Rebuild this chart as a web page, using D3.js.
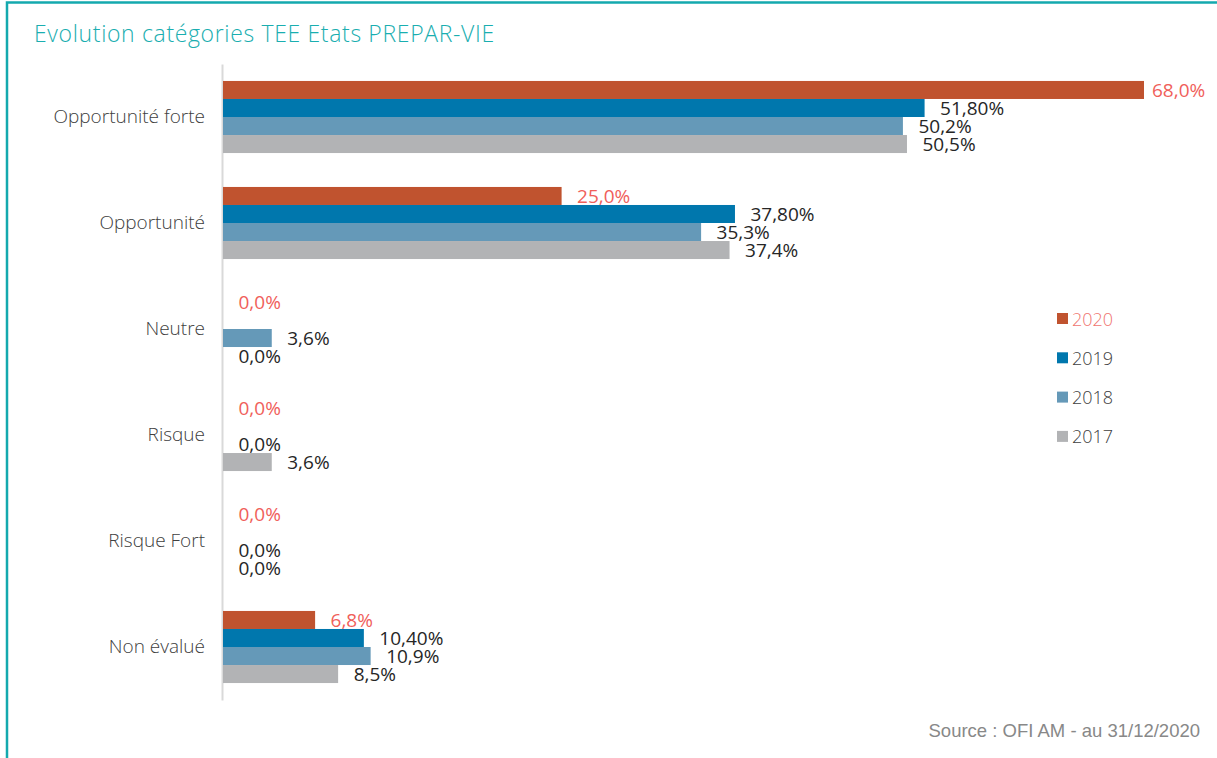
<!DOCTYPE html>
<html><head><meta charset="utf-8">
<script src="https://cdn.jsdelivr.net/npm/d3@7"></script>
<style>
html,body{margin:0;padding:0;background:#fff;}
svg{display:block;}
</style></head>
<body>
<svg id="chart" width="1217" height="758"></svg>
<script>
const title = "Evolution catégories TEE Etats PREPAR-VIE";
const source = "Source : OFI AM - au 31/12/2020";
const categories = ["Opportunité forte","Opportunité","Neutre","Risque","Risque Fort","Non évalué"];
const seriesNames = ["2020","2019","2018","2017"];
const values2020 = [68.0, 25.0, 0.0, 0.0, 0.0, 6.8];
const values2019 = [51.80, 37.80, null, null, null, 10.40];
const values2018 = [50.2, 35.3, 3.6, 0.0, 0.0, 10.9];
const values2017 = [50.5, 37.4, 0.0, 3.6, 0.0, 8.5];
const labels2020 = ["68,0%","25,0%","0,0%","0,0%","0,0%","6,8%"];
const labels2019 = ["51,80%","37,80%",null,null,null,"10,40%"];
const labels2018 = ["50,2%","35,3%","3,6%","0,0%","0,0%","10,9%"];
const labels2017 = ["50,5%","37,4%","0,0%","3,6%","0,0%","8,5%"];
const colors = ["#C0532F","#0077AD","#6599B8","#B2B3B5"];
const labelColors = ["#F0605A","#262626","#262626","#262626"];
const legendTextColors = ["#F07470","#404040","#404040","#404040"];

const seriesValues = [values2020, values2019, values2018, values2017];
const seriesLabels = [labels2020, labels2019, labels2018, labels2017];

const svg = d3.select("#chart");
const font = "'Open Sans', sans-serif";

// frame
svg.append("path")
  .attr("d", "M7,758 L7,2.5 L1217,2.5")
  .attr("fill","none").attr("stroke","#14A9AE").attr("stroke-width",2.5);

svg.append("text").attr("x",34).attr("y",42)
  .attr("font-family",font).attr("font-weight",300).attr("font-size",23)
  .attr("letter-spacing",0.65)
  .attr("fill","#1AAEB0").text(title);

const x = d3.scaleLinear().domain([0,68]).range([223,1144]);
const y = d3.scaleBand().domain(categories).range([64,700]).paddingInner(0.32).paddingOuter(0.16);
const ySub = d3.scaleBand().domain(seriesNames).range([0,y.bandwidth()]);

// axis
const yAxis = d3.axisLeft(y).tickSize(0).tickPadding(17);
const gAxis = svg.append("g").attr("transform","translate(222,0)").call(yAxis);
gAxis.select(".domain").attr("stroke","#D9D9D9").attr("stroke-width",2);
gAxis.selectAll("text").attr("font-family",font).attr("font-weight",300)
  .attr("font-size",19).attr("fill","#404040");

seriesNames.forEach((s, si) => {
  const recs = categories.map((c, ci) => ({c, v: seriesValues[si][ci], l: seriesLabels[si][ci]}));
  const g = svg.append("g");
  g.selectAll("rect").data(recs.filter(d => d.v !== null && d.v > 0)).join("rect")
    .attr("x", x(0)).attr("y", d => y(d.c) + ySub(s))
    .attr("width", d => x(d.v) - x(0)).attr("height", ySub.bandwidth())
    .attr("fill", colors[si]);
  g.selectAll("text").data(recs.filter(d => d.l !== null)).join("text")
    .attr("x", d => Math.min(x(d.v) + 15.5, 1152))
    .attr("y", d => y(d.c) + ySub(s) + ySub.bandwidth()/2)
    .attr("dominant-baseline","central")
    .attr("font-family",font).attr("font-size",19)
    .attr("fill", labelColors[si]).text(d => d.l);
});

// legend
const legend = svg.append("g");
seriesNames.forEach((s, i) => {
  const ly = 318.5 + i*39.3;
  legend.append("rect").attr("x",1057).attr("y",ly-5.5).attr("width",11).attr("height",11).attr("fill",colors[i]);
  legend.append("text").attr("x",1072).attr("y",ly).attr("dominant-baseline","central")
    .attr("font-family",font).attr("font-weight",300).attr("font-size",18)
    .attr("fill",legendTextColors[i]).text(s);
});

svg.append("text").attr("x",1200).attr("y",737).attr("text-anchor","end")
  .attr("font-family","'Liberation Sans', Arial, sans-serif").attr("font-size",18.5)
  .attr("fill","#888888").text(source);
</script>
</body></html>
